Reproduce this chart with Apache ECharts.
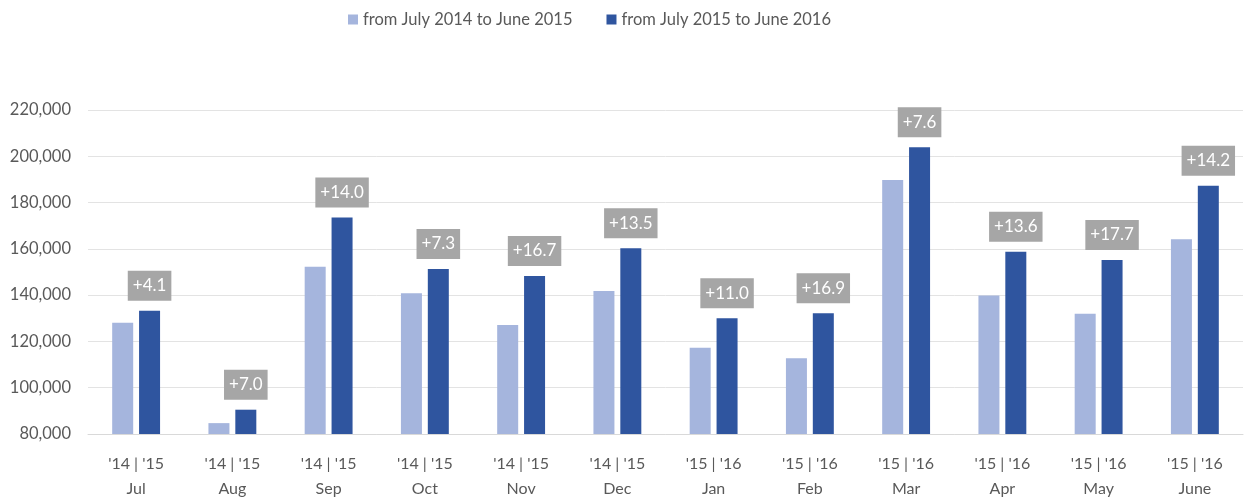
<!DOCTYPE html>
<html>
<head>
<meta charset="utf-8">
<script src="https://cdn.jsdelivr.net/npm/echarts@6/dist/echarts.min.js"></script>
<style>html,body{margin:0;padding:0;background:#fff;}#c{width:1253px;height:502px;}</style>
</head>
<body>
<div id="c"></div>
<script>
const months = ['Jul','Aug','Sep','Oct','Nov','Dec','Jan','Feb','Mar','Apr','May','June'];
const yearPairs = ["'14 | '15","'14 | '15","'14 | '15","'14 | '15","'14 | '15","'14 | '15","'15 | '16","'15 | '16","'15 | '16","'15 | '16","'15 | '16","'15 | '16"];
const seriesNames = ['from July 2014 to June 2015','from July 2015 to June 2016'];
const prevYear = [128100, 84700, 152300, 140800, 127100, 141800, 117300, 112700, 189800, 139800, 132000, 164100];
const currYear = [133300, 90500, 173500, 151300, 148300, 160300, 130000, 132200, 203900, 158800, 155200, 187300];
const growth = ['+4.1','+7.0','+14.0','+7.3','+16.7','+13.5','+11.0','+16.9','+7.6','+13.6','+17.7','+14.2'];
const yMin = 80000, yMax = 220000, yStep = 20000;

const FONT = 'Lato, "Open Sans", sans-serif';
const chart = echarts.init(document.getElementById('c'), null, {renderer:'canvas'});
chart.setOption({
  animation: false,
  backgroundColor: '#ffffff',
  legend: {
    top: 6, left: 343,
    itemWidth: 10, itemHeight: 10, itemGap: 34,
    icon: 'rect',
    textStyle: {fontFamily: FONT, fontSize: 16.5, color: '#595959'},
    data: seriesNames
  },
  grid: {left: 88, right: 10, top: 110, bottom: 68},
  xAxis: {
    type: 'category',
    data: months.map((m, i) => yearPairs[i] + '\n' + m),
    axisLine: {lineStyle: {color: '#d9d9d9'}},
    axisTick: {show: false},
    axisLabel: {fontFamily: FONT, fontSize: 16, color: '#595959', lineHeight: 25, margin: 17, interval: 0}
  },
  yAxis: {
    type: 'value', min: yMin, max: yMax, interval: yStep,
    axisLine: {show: false}, axisTick: {show: false},
    splitLine: {lineStyle: {color: '#e3e3e3', width: 1}},
    axisLabel: {fontFamily: FONT, fontSize: 16.5, color: '#595959', margin: 17,
      formatter: v => v.toLocaleString('en-US')}
  },
  series: [
    {name: seriesNames[0], type: 'bar', data: prevYear, barWidth: 21, barGap: '28%',
     itemStyle: {color: '#a5b5dd'}},
    {name: seriesNames[1], type: 'bar', data: currYear, barWidth: 21,
     itemStyle: {color: '#2f559f'},
     label: {show: true, position: 'top', distance: 10,
       formatter: p => growth[p.dataIndex],
       backgroundColor: '#a6a6a6', color: '#ffffff', padding: [5, 5, 5, 5],
       fontFamily: FONT, fontSize: 17, lineHeight: 20}}
  ]
});
</script>
</body>
</html>
